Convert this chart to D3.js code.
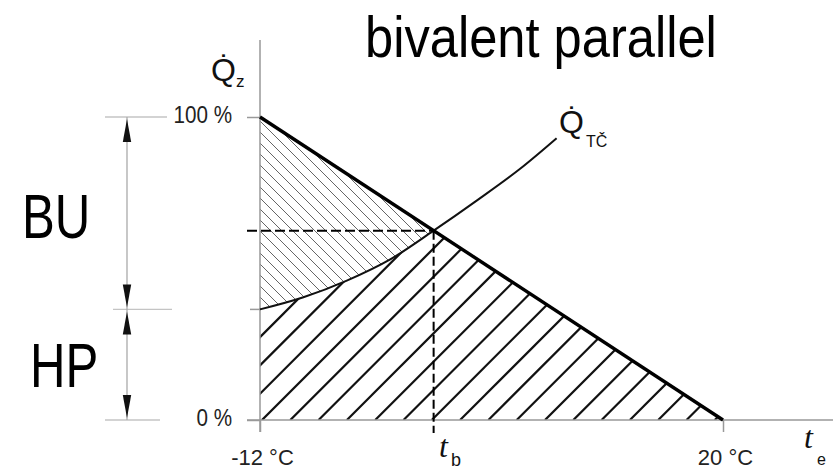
<!DOCTYPE html>
<html>
<head>
<meta charset="utf-8">
<script src="https://cdn.jsdelivr.net/npm/d3@7"></script>
<style>
  html, body { margin: 0; padding: 0; background: #fff; }
  svg { display: block; }
</style>
</head>
<body>
<svg id="chart" width="836" height="471"></svg>
<script>
// Heat demand of the building (% of design load) against outdoor temperature (°C)
const demandTemps = [-12, 20];
const demandLoad = [100, 0];

// Heat pump output curve
const hpTemps = [-12, -9, -6, -3, 0, 3, 6, 8.5];
const hpLoad = [36.5, 40.5, 46, 53, 62.5, 72.5, 83, 93];

// Bivalence point (heat pump output meets the demand)
const bivalentTemp = 0;
const bivalentLoad = 62.5;

// Axis ticks
const xTicks = [-12, 20];
const xTickLabels = ["-12 °C", "20 °C"];
const yTicks = [0, 100];
const yTickLabels = ["0 %", "100 %"];

// Dimension line on the left: backup share above, heat pump share below
const splitMarks = [100, 36.5, 0];
const shareLabels = ["BU", "HP"];

const title = "bivalent parallel";

const svg = d3.select("#chart");
const SANS = "'Liberation Sans', Arial, sans-serif";
const SERIF = "'Liberation Serif', 'Times New Roman', serif";

const x = d3.scaleLinear().domain([-12, 20]).range([260, 723]);
const y = d3.scaleLinear().domain([0, 100]).range([420, 117]);

// squeeze text horizontally to a narrow face
function narrow(sel, k) {
  sel.each(function () {
    const w = this.getComputedTextLength();
    d3.select(this).attr("textLength", w * k).attr("lengthAdjust", "spacingAndGlyphs");
  });
}

const demandPts = demandTemps.map((t, i) => [t, demandLoad[i]]);
const hpPts = hpTemps.map((t, i) => [t, hpLoad[i]]);

const line = d3.line().x(d => x(d[0])).y(d => y(d[1]));
const hpLine = d3.line().x(d => x(d[0])).y(d => y(d[1])).curve(d3.curveMonotoneX);

// ---- clip regions for the hatching ----
const defs = svg.append("defs");
const demandArea = d3.area().x(d => x(d[0])).y0(y(0)).y1(d => y(d[1]));
defs.append("clipPath").attr("id", "underDemand")
  .append("path").attr("d", demandArea(demandPts));

const hpPath = hpLine(hpPts);
const hpStart = hpPts[0], hpEnd = hpPts[hpPts.length - 1];
defs.append("clipPath").attr("id", "underHp")
  .append("path")
  .attr("d", hpPath +
    `L${x(hpEnd[0])},0L836,0L836,${y(0)}L${x(hpStart[0])},${y(0)}Z`);
defs.append("clipPath").attr("id", "aboveHp")
  .append("path")
  .attr("d", hpPath + `L${x(hpEnd[0])},0L${x(hpStart[0])},0Z`);

// backup share: light "\" hatching between heat pump curve and demand
const upper = svg.append("g").attr("clip-path", "url(#underDemand)")
  .append("g").attr("clip-path", "url(#aboveHp)");
d3.range(-40, 60).forEach(k => {
  const x0 = 250 + k * 11;
  upper.append("line")
    .attr("x1", x0).attr("y1", 100).attr("x2", x0 + 340).attr("y2", 440)
    .attr("stroke", "#666").attr("stroke-width", 1);
});

// heat pump share: heavy "/" hatching below both curves
const lower = svg.append("g").attr("clip-path", "url(#underDemand)")
  .append("g").attr("clip-path", "url(#underHp)");
d3.range(-14, 20).forEach(k => {
  const x0 = 262 + k * 28.3;
  lower.append("line")
    .attr("x1", x0).attr("y1", y(0)).attr("x2", x0 + 340).attr("y2", y(0) - 340)
    .attr("stroke", "#111").attr("stroke-width", 2.2);
});

// ---- axes ----
svg.append("line")
  .attr("x1", x(-12)).attr("y1", 40).attr("x2", x(-12)).attr("y2", y(0) + 12)
  .attr("stroke", "#999").attr("stroke-width", 1.5);
svg.append("line")
  .attr("x1", x(-12) - 13).attr("y1", y(0)).attr("x2", 833).attr("y2", y(0))
  .attr("stroke", "#999").attr("stroke-width", 1.5);

const gx = svg.append("g").attr("transform", `translate(0,${y(0)})`)
  .call(d3.axisBottom(x).tickValues(xTicks).tickSize(12).tickPadding(17)
    .tickFormat((d, i) => xTickLabels[i]));
gx.select(".domain").remove();
gx.selectAll(".tick line").attr("stroke", "#999").attr("stroke-width", 1.5);
gx.selectAll(".tick text").attr("font-family", SANS).attr("font-size", 22).attr("fill", "#222")
  .attr("dx", 2);

const gy = svg.append("g").attr("transform", `translate(${x(-12)},0)`)
  .call(d3.axisLeft(y).tickValues(yTicks).tickSize(13).tickPadding(15)
    .tickFormat((d, i) => yTickLabels[i]));
gy.select(".domain").remove();
gy.selectAll(".tick line").attr("stroke", "#999").attr("stroke-width", 1.5);
gy.selectAll(".tick text").attr("font-family", SANS).attr("font-size", 24)
  .attr("fill", "#222").attr("dy", "0.22em").call(narrow, 0.86);

// short tick at the heat pump share on the load axis
svg.append("line")
  .attr("x1", x(-12) - 10).attr("y1", y(splitMarks[1]))
  .attr("x2", x(-12)).attr("y2", y(splitMarks[1]))
  .attr("stroke", "#999").attr("stroke-width", 1.5);

// ---- curves ----
svg.append("path").attr("d", hpPath)
  .attr("fill", "none").attr("stroke", "#111").attr("stroke-width", 2);
svg.append("path").attr("d", line(demandPts))
  .attr("fill", "none").attr("stroke", "#000").attr("stroke-width", 3.4);

// bivalence point guides
svg.append("line")
  .attr("x1", x(-12) - 13).attr("y1", y(bivalentLoad))
  .attr("x2", x(bivalentTemp)).attr("y2", y(bivalentLoad))
  .attr("stroke", "#000").attr("stroke-width", 2).attr("stroke-dasharray", "10,4");
svg.append("line")
  .attr("x1", x(bivalentTemp)).attr("y1", y(bivalentLoad))
  .attr("x2", x(bivalentTemp)).attr("y2", y(0) + 13)
  .attr("stroke", "#000").attr("stroke-width", 2).attr("stroke-dasharray", "9,4");

// ---- dimension line with arrows ----
const dimX = 127;
const extents = [[105, 167], [113, 172], [105, 160]];
splitMarks.forEach((v, i) => {
  svg.append("line")
    .attr("x1", extents[i][0]).attr("y1", y(v)).attr("x2", extents[i][1]).attr("y2", y(v))
    .attr("stroke", "#c4c4c4").attr("stroke-width", 1.3);
});
svg.append("line")
  .attr("x1", dimX).attr("y1", y(splitMarks[0])).attr("x2", dimX).attr("y2", y(splitMarks[2]))
  .attr("stroke", "#aaa").attr("stroke-width", 1.3);
function arrow(tipY, dir) {
  // dir = +1: arrow body below the tip, -1: above
  const L = 23, w = 4.2, gap = 2;
  const t = tipY + dir * gap;
  svg.append("path")
    .attr("d", `M${dimX},${t}L${dimX - w},${t + dir * L}L${dimX + w},${t + dir * L}Z`)
    .attr("fill", "#111");
}
arrow(y(splitMarks[0]), 1);
arrow(y(splitMarks[1]), -1);
arrow(y(splitMarks[1]), 1);
arrow(y(splitMarks[2]), -1);

// share labels
svg.append("text").attr("x", 22).attr("y", 238)
  .attr("font-family", SANS).attr("font-size", 63).attr("fill", "#000")
  .text(shareLabels[0]).call(narrow, 0.78);
svg.append("text").attr("x", 30).attr("y", 387)
  .attr("font-family", SANS).attr("font-size", 63).attr("fill", "#000")
  .text(shareLabels[1]).call(narrow, 0.78);

// title
svg.append("text").attr("x", 365).attr("y", 57)
  .attr("font-family", SANS).attr("font-size", 58).attr("fill", "#000")
  .text(title).call(narrow, 0.873);

// ---- quantity labels ----
const qz = svg.append("text").attr("x", 211).attr("y", 81)
  .attr("font-family", SANS).attr("font-size", 32).attr("fill", "#111");
qz.append("tspan").text("Q\u0307");
qz.append("tspan").attr("font-size", 17).attr("dy", 6).text("z");

const qt = svg.append("text").attr("x", 559).attr("y", 133)
  .attr("font-family", SANS).attr("font-size", 32).attr("fill", "#111");
qt.append("tspan").text("Q\u0307");
qt.append("tspan").attr("font-size", 16).attr("dy", 14).attr("dx", 2).text("TČ");

const tb = svg.append("text").attr("x", 439).attr("y", 457)
  .attr("font-family", SERIF).attr("font-style", "italic").attr("font-size", 32).attr("fill", "#111");
tb.append("tspan").text("t");
tb.append("tspan").attr("font-family", SANS).attr("font-style", "normal")
  .attr("font-size", 18).attr("dy", 9).attr("dx", 3).text("b");

const te = svg.append("text").attr("x", 804).attr("y", 448)
  .attr("font-family", SERIF).attr("font-style", "italic").attr("font-size", 32).attr("fill", "#111");
te.append("tspan").text("t");
te.append("tspan").attr("font-family", SANS).attr("font-style", "normal")
  .attr("font-size", 16).attr("dy", 17).attr("dx", 4).text("e");
</script>
</body>
</html>
